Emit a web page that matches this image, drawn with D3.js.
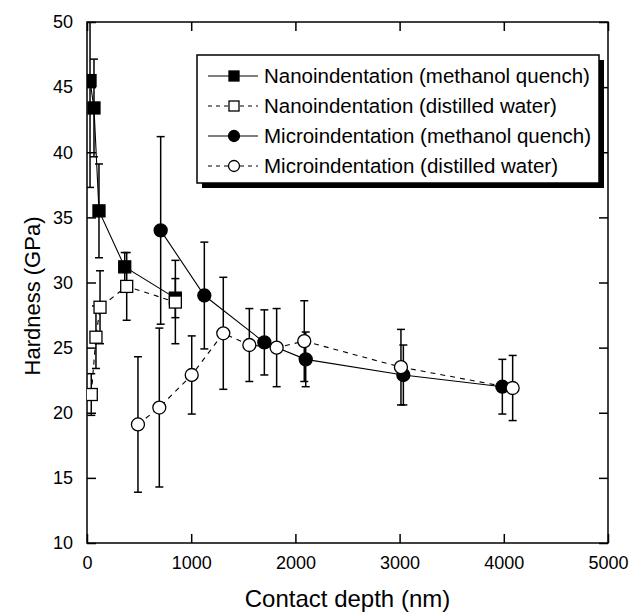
<!DOCTYPE html>
<html>
<head>
<meta charset="utf-8">
<script src="https://cdn.jsdelivr.net/npm/d3@7"></script>
<style>
  body { margin: 0; background: #fff; }
  text { font-family: "Liberation Sans", Arial, sans-serif; fill: #000; }
</style>
</head>
<body>
<svg id="chart" width="633" height="615"></svg>
<script>
// depth in nm, hardness in GPa, err = half error bar
const nanoMethanolDepth = [29, 67, 115, 362, 848];
const nanoMethanolHard = [45.5, 43.4, 35.5, 31.2, 28.8];
const nanoMethanolErr = [8.2, 3.75, 3.6, 1.1, 1.5];

const nanoWaterDepth = [41, 86, 125, 381, 848];
const nanoWaterHard = [21.4, 25.8, 28.1, 29.7, 28.5];
const nanoWaterErr = [1.6, 2.4, 2.8, 2.6, 3.2];

const microMethanolDepth = [707, 1126, 1702, 2099, 3036, 3986];
const microMethanolHard = [34.0, 29.0, 25.4, 24.1, 22.9, 22.0];
const microMethanolErr = [7.2, 4.1, 2.5, 2.1, 2.3, 2.1];

const microWaterDepth = [489, 694, 1005, 1308, 1558, 1820, 2085, 3013, 4085];
const microWaterHard = [19.1, 20.4, 22.9, 26.1, 25.2, 25.0, 25.5, 23.5, 21.9];
const microWaterErr = [5.2, 6.1, 3.0, 4.3, 2.8, 3.0, 3.1, 2.9, 2.5];

const xTicks = [0, 1000, 2000, 3000, 4000, 5000];
const yTicks = [10, 15, 20, 25, 30, 35, 40, 45, 50];

const seriesNames = [
    "Nanoindentation (methanol quench)",
    "Nanoindentation (distilled water)",
    "Microindentation (methanol quench)",
    "Microindentation (distilled water)"
];

const zip = (xs, ys, es) => xs.map((x, i) => ({ x: x, y: ys[i], e: es[i] }));

const series = [
    { name: seriesNames[0], pts: zip(nanoMethanolDepth, nanoMethanolHard, nanoMethanolErr), shape: "square", fill: "#000", dash: null },
    { name: seriesNames[1], pts: zip(nanoWaterDepth, nanoWaterHard, nanoWaterErr), shape: "square", fill: "#fff", dash: "5,5" },
    { name: seriesNames[2], pts: zip(microMethanolDepth, microMethanolHard, microMethanolErr), shape: "circle", fill: "#000", dash: null },
    { name: seriesNames[3], pts: zip(microWaterDepth, microWaterHard, microWaterErr), shape: "circle", fill: "#fff", dash: "5,5" }
];

const margin = { left: 87, top: 22, right: 25, bottom: 72 };
const width = 521, height = 521;

const svg = d3.select("#chart");
const g = svg.append("g").attr("transform", `translate(${margin.left},${margin.top})`);

const x = d3.scaleLinear().domain([0, 5000]).range([0, width]);
const y = d3.scaleLinear().domain([10, 50]).range([height, 0]);

svg.append("clipPath").attr("id", "plotclip")
    .append("rect").attr("width", width).attr("height", height);

// frame
g.append("rect")
    .attr("width", width).attr("height", height)
    .attr("fill", "none").attr("stroke", "#000").attr("stroke-width", 1.5);

// axes with inward ticks
const tickLen = 9;
g.append("g").attr("transform", `translate(0,${height})`)
    .call(d3.axisBottom(x).tickValues(xTicks).tickSize(-tickLen).tickPadding(13).tickFormat(d3.format("d")))
    .call(a => a.select(".domain").remove())
    .call(a => a.selectAll("text").style("font-size", "18px").attr("dy", "0.71em"));
g.append("g")
    .call(d3.axisTop(x).tickValues(xTicks).tickSize(-tickLen).tickFormat(""))
    .call(a => a.select(".domain").remove());
g.append("g")
    .call(d3.axisLeft(y).tickValues(yTicks).tickSize(-tickLen).tickPadding(14))
    .call(a => a.select(".domain").remove())
    .call(a => a.selectAll("text").style("font-size", "18px"));
g.append("g").attr("transform", `translate(${width},0)`)
    .call(d3.axisRight(y).tickValues(yTicks).tickSize(-tickLen).tickFormat(""))
    .call(a => a.select(".domain").remove());
g.selectAll(".tick line").attr("stroke-width", 1.5);

// axis titles
svg.append("text")
    .attr("x", margin.left + width / 2).attr("y", 607)
    .attr("text-anchor", "middle").style("font-size", "24px")
    .text("Contact depth (nm)");
svg.append("text")
    .attr("transform", `translate(40,296) rotate(-90)`)
    .attr("text-anchor", "middle").style("font-size", "22px")
    .text("Hardness (GPa)");

const plot = g.append("g").attr("clip-path", "url(#plotclip)");
const line = d3.line().x(d => x(d.x)).y(d => y(d.y));
const capW = 4;

function drawMarker(sel, s, size) {
    if (s.shape === "square") {
        sel.append("rect")
            .attr("x", -size / 2).attr("y", -size / 2)
            .attr("width", size).attr("height", size)
            .attr("fill", s.fill).attr("stroke", "#000").attr("stroke-width", 1.3);
    } else {
        sel.append("circle").attr("r", size / 2 + 0.5)
            .attr("fill", s.fill).attr("stroke", "#000").attr("stroke-width", 1.3);
    }
}

series.forEach(s => {
    plot.append("path").datum(s.pts)
        .attr("d", line).attr("fill", "none")
        .attr("stroke", "#000").attr("stroke-width", 1.1)
        .attr("stroke-dasharray", s.dash);
});

series.forEach(s => {
    const eb = plot.append("g");
    s.pts.forEach(p => {
        const px = x(p.x), top = y(p.y + p.e), bot = y(p.y - p.e);
        eb.append("line").attr("x1", px).attr("x2", px).attr("y1", top).attr("y2", bot)
            .attr("stroke", "#000").attr("stroke-width", 1.5);
        [top, bot].forEach(v => eb.append("line")
            .attr("x1", px - capW).attr("x2", px + capW).attr("y1", v).attr("y2", v)
            .attr("stroke", "#000").attr("stroke-width", 1.5));
    });
});

series.forEach(s => {
    s.pts.forEach(p => {
        const m = plot.append("g").attr("transform", `translate(${x(p.x)},${y(p.y)})`);
        drawMarker(m, s, 12);
    });
});

// legend
const lg = svg.append("g").attr("transform", "translate(197,55)");
const lw = 402, lh = 128;
lg.append("rect").attr("x", 5).attr("y", 5).attr("width", lw).attr("height", lh).attr("fill", "#000");
lg.append("rect").attr("width", lw).attr("height", lh)
    .attr("fill", "#fff").attr("stroke", "#000").attr("stroke-width", 1.5);
series.forEach((s, i) => {
    const row = lg.append("g").attr("transform", `translate(0,${21 + i * 30})`);
    row.append("line").attr("x1", 11).attr("x2", 61).attr("y1", 0).attr("y2", 0)
        .attr("stroke", "#000").attr("stroke-width", 1.2)
        .attr("stroke-dasharray", s.dash ? "4,4" : null);
    const m = row.append("g").attr("transform", "translate(37,0)");
    drawMarker(m, s, 10);
    row.append("text").attr("x", 67).attr("y", 0).attr("dy", "0.35em")
        .style("font-size", "20.5px").text(s.name);
});
</script>
</body>
</html>
